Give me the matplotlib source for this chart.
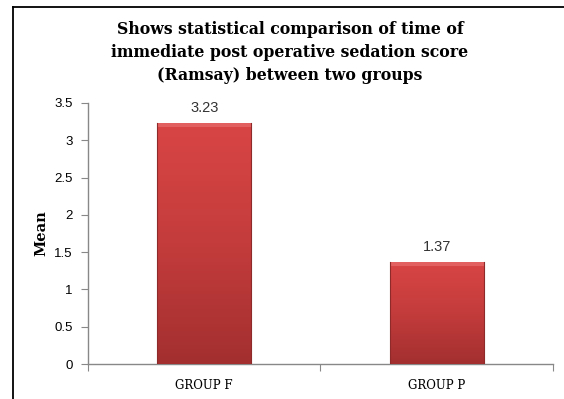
import numpy as np
import matplotlib
matplotlib.use("Agg")
import matplotlib.pyplot as plt
from matplotlib.colors import LinearSegmentedColormap
from matplotlib.lines import Line2D

groups = ["GROUP F", "GROUP P"]
means = [3.23, 1.37]
value_labels = ["3.23", "1.37"]
yticks = [0, 0.5, 1, 1.5, 2, 2.5, 3, 3.5]
ytick_labels = ["0", "0.5", "1", "1.5", "2", "2.5", "3", "3.5"]

title_lines = ["Shows statistical comparison of time of",
               "immediate post operative sedation score",
               "(Ramsay) between two groups"]

W, H = 564, 399
fig = plt.figure(figsize=(W / 100, H / 100), dpi=100)
ax = fig.add_axes([0.156, 0.0877, 0.8245, 0.6542])

x = np.arange(len(groups))
bar_w = 0.405
bars = ax.bar(x, means, width=bar_w, color="#c23b3b", edgecolor="none", zorder=2)

# vertical gradient inside each bar, lighter at the top
grad_cmap = LinearSegmentedColormap.from_list("redgrad", ["#a32f2f", "#c43c3c", "#d94545"])
grad = np.linspace(0, 1, 256).reshape(-1, 1)
for b in bars:
    x0, w, h = b.get_x(), b.get_width(), b.get_height()
    im = ax.imshow(grad, extent=[x0, x0 + w, 0, h], origin="lower",
                   cmap=grad_cmap, aspect="auto", zorder=3)
    im.set_clip_path(b)
    # bevel highlight along the top edge
    ax.fill_between([x0, x0 + w], h - 0.05, h, color="#e26060", zorder=4, lw=0)
    ax.plot([x0, x0], [0, h], color="#8e2a2a", lw=0.8, zorder=4)
    ax.plot([x0 + w, x0 + w], [0, h], color="#8e2a2a", lw=0.8, zorder=4)

for xi, m, lab in zip(x, means, value_labels):
    ax.text(xi, m + 0.2, lab, ha="center", va="center",
            fontsize=10.5, family="Liberation Sans", color="#333333")

ax.set_xlim(-0.5, 1.5)
ax.set_ylim(0, 3.5)
ax.set_yticks(yticks)
ax.set_yticklabels(ytick_labels, family="Liberation Sans", fontsize=9.5)
ax.set_xticks([-0.5, 0.5, 1.5])
ax.set_xticklabels([])
ax.set_xticks(x, minor=True)
ax.set_xticklabels(groups, minor=True, family="DejaVu Serif", fontsize=8.5)
ax.tick_params(axis="x", which="minor", length=0, pad=11)
ax.tick_params(axis="x", which="major", length=5, color="#888888", direction="out")
ax.tick_params(axis="y", length=5, color="#888888", direction="out", pad=6)

for s in ["top", "right"]:
    ax.spines[s].set_visible(False)
for s in ["left", "bottom"]:
    ax.spines[s].set_color("#888888")
    ax.spines[s].set_linewidth(1.0)

ax.set_ylabel("Mean", family="DejaVu Serif", fontweight="bold", fontsize=10.5, labelpad=4)

for i, line in enumerate(title_lines):
    yc = 30 + 22.5 * i
    fig.text(290 / W, 1 - yc / H, line, ha="center", va="center", family="DejaVu Serif",
             fontweight="bold", fontsize=11.3)

# frame around the chart area
fig.add_artist(Line2D([13 / W, 13 / W], [0, 1 - 7 / H], transform=fig.transFigure,
                      color="black", lw=1.3))
fig.add_artist(Line2D([13 / W, 1], [1 - 7 / H, 1 - 7 / H], transform=fig.transFigure,
                      color="black", lw=1.3))

fig.savefig("out.png", dpi=100)
